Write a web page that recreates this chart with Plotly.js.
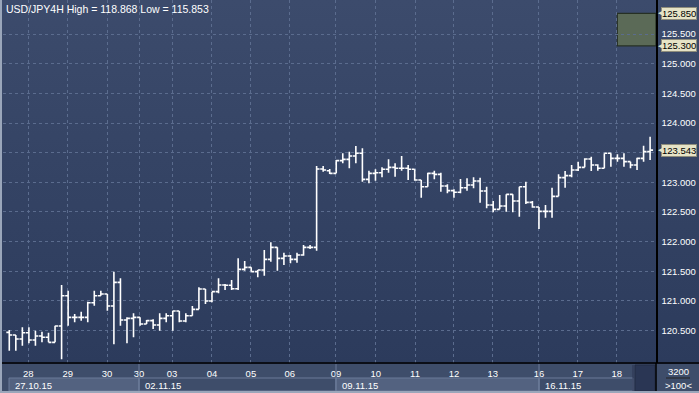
<!DOCTYPE html>
<html>
<head>
<meta charset="utf-8">
<script src="https://cdn.plot.ly/plotly-3.0.1.min.js"></script>
<style>
html,body{margin:0;padding:0;background:#2c3b5b;}
#wrap{position:relative;width:699px;height:393px;overflow:hidden;}
#bg{position:absolute;left:0;top:0;width:699px;height:364px;background:linear-gradient(#3c4b6c,#2c3b5c);}
#band{position:absolute;left:0;top:364px;width:699px;height:29px;background:#3e4d6a;}
#chart{position:absolute;left:0;top:0;width:699px;height:393px;}
#edgeL{position:absolute;left:0;top:0;width:2px;height:393px;background:#9aa6ba;}
#edgeB{position:absolute;left:0;top:391px;width:699px;height:2px;background:#9aa6ba;}
</style>
</head>
<body>
<div id="wrap"><div id="bg"></div><div id="band"></div><div id="chart"></div><div id="edgeL"></div><div id="edgeB"></div></div>
<script>
// ---- data (4H bars, USD/JPY) ----
const barIndex = [];
for (let i = 0; i < 99; i++) barIndex.push(i);
const openP = [120.470,120.425,120.357,120.464,120.341,120.408,120.386,120.301,120.577,121.088,
 120.723,120.723,120.723,120.970,121.088,121.116,120.914,121.313,120.678,120.706,
 120.723,120.610,120.667,120.594,120.706,120.751,120.830,120.661,120.751,120.858,
 121.201,120.998,121.156,121.268,121.263,121.206,121.532,121.566,121.493,121.521,
 121.701,121.903,121.718,121.757,121.701,121.774,121.903,121.903,123.224,123.196,
 123.151,123.365,123.387,123.444,123.489,123.050,123.151,123.162,123.219,123.252,
 123.236,123.236,123.219,123.039,122.926,123.151,123.134,122.938,122.859,122.831,
 122.909,122.954,123.022,122.853,122.617,122.544,122.600,122.797,122.685,122.926,
 122.662,122.583,122.510,122.510,122.763,123.078,123.112,123.207,123.252,123.393,
 123.292,123.236,123.489,123.404,123.404,123.348,123.292,123.404,123.517];
const highP = [120.509,120.425,120.554,120.554,120.498,120.481,120.464,120.582,121.268,121.173,
 120.779,120.818,120.987,121.173,121.173,121.116,121.493,121.381,120.723,120.790,
 120.723,120.678,120.689,120.790,120.790,120.835,120.830,120.790,120.914,121.229,
 121.201,121.156,121.381,121.285,121.352,121.718,121.673,121.566,121.521,121.858,
 121.988,121.903,121.813,121.774,121.813,121.943,121.943,123.275,123.275,123.224,
 123.376,123.489,123.517,123.612,123.573,123.196,123.219,123.252,123.387,123.320,
 123.444,123.292,123.219,123.039,123.162,123.196,123.162,122.966,122.881,123.056,
 123.067,123.084,123.078,122.926,122.685,122.786,122.797,122.797,122.926,123.011,
 122.685,122.583,122.617,122.909,123.134,123.191,123.292,123.348,123.404,123.432,
 123.303,123.489,123.489,123.472,123.489,123.348,123.415,123.618,123.769];
const lowP = [120.161,120.161,120.245,120.284,120.245,120.301,120.301,120.301,120.015,120.582,
 120.639,120.667,120.639,120.920,121.088,120.835,120.268,120.582,120.284,120.386,
 120.582,120.610,120.526,120.498,120.639,120.498,120.639,120.639,120.751,120.858,
 120.948,120.976,121.128,121.184,121.184,121.184,121.510,121.493,121.397,121.425,
 121.662,121.510,121.605,121.634,121.645,121.763,121.875,121.847,123.179,123.140,
 123.151,123.320,123.236,123.320,123.011,122.983,123.028,123.084,123.162,123.095,
 123.196,123.039,123.028,122.741,122.926,123.050,122.842,122.814,122.741,122.814,
 122.859,122.898,122.657,122.561,122.494,122.544,122.505,122.494,122.420,122.634,
 122.572,122.212,122.404,122.404,122.763,122.909,123.084,123.191,123.252,123.191,
 123.196,123.236,123.264,123.348,123.264,123.236,123.207,123.348,123.376];
const closeP = [120.425,120.357,120.464,120.341,120.408,120.386,120.301,120.577,121.088,120.723,
 120.723,120.723,120.970,121.088,121.116,120.914,121.313,120.678,120.706,120.723,
 120.610,120.667,120.594,120.706,120.751,120.830,120.661,120.751,120.858,121.201,
 120.998,121.156,121.268,121.263,121.206,121.532,121.566,121.493,121.521,121.701,
 121.903,121.718,121.757,121.701,121.774,121.903,121.903,123.224,123.207,123.151,
 123.365,123.387,123.444,123.489,123.050,123.151,123.162,123.219,123.252,123.236,
 123.236,123.219,123.039,122.926,123.151,123.134,122.938,122.859,122.831,122.909,
 122.954,123.022,122.853,122.617,122.544,122.600,122.797,122.685,122.926,122.662,
 122.583,122.510,122.510,122.763,123.078,123.112,123.207,123.252,123.393,123.292,
 123.236,123.489,123.404,123.404,123.348,123.292,123.404,123.517,123.543];
const dayLabels = ["28","29","30","30","03","04","05","06","09","10","11","12","13","16","17","18"];
const weekLabels = ["27.10.15","02.11.15","09.11.15","16.11.15"];
const priceTicks = [120.5,121.0,121.5,122.0,122.5,123.0,123.5,124.0,124.5,125.0,125.5];
const tagValues = [125.850,125.300,123.543];
const zoneLow = 125.300, zoneHigh = 125.850;
const titleText = "USD/JPY4H High = 118.868 Low = 115.853";
const footerTop = "3200", footerBottom = ">100<";

// ---- layout helpers ----
const L = 3, R = 656, T = 0, B = 363;
const px = x => (x - L) / (R - L);
const py = y => (B - y) / (B - T);
const dayPos = [2.9, 8.95, 14.95, 19.85, 24.9, 31.0, 36.95, 42.9, 49.95, 56.05, 62.05, 68.0, 73.95, 81.0, 86.95, 92.9];
const weekPos = [0, 19.85, 49.95, 81.0];
const FONT = '"Liberation Sans",Arial,sans-serif';

const trace = {
  type: 'ohlc', x: barIndex, open: openP, high: highP, low: lowP, close: closeP,
  increasing: {line: {color: '#ffffff', width: 1.6}},
  decreasing: {line: {color: '#ffffff', width: 1.6}},
  tickwidth: 0.45, hoverinfo: 'skip', showlegend: false
};

const shapes = [];
const annotations = [];
// resistance zone
shapes.push({type:'rect', xref:'paper', yref:'y', x0: px(617.3), x1: 1, y0: zoneLow, y1: zoneHigh,
  fillcolor:'#5b6a57', line:{color:'#263024', width:1.2}, layer:'below'});
// bottom axis line across entire width
shapes.push({type:'line', xref:'paper', yref:'paper', x0: px(0), x1: px(699), y0: 0, y1: 0, line:{color:'#000000', width:1.5}});
// week boxes in bottom band
const wb = [[9,139,true],[139,336,false],[336,539,true],[539,633,false]];
wb.forEach(([a,b,fill]) => {
  shapes.push({type:'rect', xref:'paper', yref:'paper', x0: px(a), x1: px(b), y0: py(391), y1: py(378),
    fillcolor: fill ? '#536280' : 'rgba(0,0,0,0)', line:{color:'#6b7a98', width:1}, layer:'below'});
});
[139,336,539].forEach(x => shapes.push({type:'line', xref:'paper', yref:'paper', x0:px(x), x1:px(x), y0:py(391), y1:py(364), line:{color:'#6b7a98', width:1}}));
// dark box right of bottom band
shapes.push({type:'rect', xref:'paper', yref:'paper', x0: px(635), x1: px(655), y0: py(391), y1: py(365),
  fillcolor:'#2a3654', line:{color:'#222c44', width:1}});
shapes.push({type:'line', xref:'paper', yref:'paper', x0:px(633), x1:px(633), y0:py(391), y1:py(365), line:{color:'#2a3450', width:1}});
shapes.push({type:'line', xref:'paper', yref:'paper', x0:px(656), x1:px(656), y0:py(393), y1:py(363), line:{color:'#000000', width:1.5}});
// footer line
shapes.push({type:'line', xref:'paper', yref:'paper', x0:px(666), x1:px(690), y0:py(378), y1:py(378), line:{color:'#222222', width:1}});

// week labels
weekLabels.forEach((t,i) => annotations.push({xref:'x', yref:'paper', x: weekPos[i], xshift: 4, y: py(385), xanchor:'left', yanchor:'middle',
  text: t, showarrow:false, font:{color:'#ffffff', size:9.5, family:FONT}}));
// price tags
tagValues.forEach(v => {
  annotations.push({xref:'paper', yref:'y', x: 1, xshift: 5, y: v, xanchor:'left', yanchor:'middle', text: v.toFixed(3),
    showarrow:false, bgcolor:'#e6e3c6', bordercolor:'#8f8d7c', borderwidth:1, borderpad:0,
    font:{color:'#000000', size:9.5, family:FONT}});
  annotations.push({xref:'paper', yref:'y', x: 1, xshift: 0, y: v, xanchor:'left', yanchor:'middle', text:'◀',
    showarrow:false, font:{color:'#e6e3c6', size:7, family:'DejaVu Sans'}});
});
// title
annotations.push({xref:'paper', yref:'paper', x: px(4), y: py(9), xanchor:'left', yanchor:'middle', text: titleText,
  showarrow:false, font:{color:'#ffffff', size:10.5, family:FONT}});
// footer
annotations.push({xref:'paper', yref:'paper', x: px(678), y: py(372), xanchor:'center', yanchor:'middle', text: footerTop,
  showarrow:false, font:{color:'#ffffff', size:9.5, family:FONT}});
annotations.push({xref:'paper', yref:'paper', x: px(678), y: py(385.5), xanchor:'center', yanchor:'middle', text: footerBottom.replace(/</g,'&lt;').replace(/>/g,'&gt;'),
  showarrow:false, font:{color:'#ffffff', size:9.5, family:FONT}});

const layout = {
  width: 699, height: 393,
  margin: {l: L, r: 699 - R, t: T, b: 393 - B, pad: 0},
  paper_bgcolor: 'rgba(0,0,0,0)', plot_bgcolor: 'rgba(0,0,0,0)',
  showlegend: false,
  xaxis: {
    type: 'linear', range: [-0.96, 98.9], tickmode: 'array', tickvals: dayPos, ticktext: dayLabels,
    showgrid: true, gridcolor: '#5b6c8e', griddash: 'dot', gridwidth: 1,
    zeroline: false, showline: false, ticks: '', rangeslider: {visible: false}, ticklabelstandoff: 3,
    tickfont: {color: '#ffffff', size: 9.5, family: FONT}, fixedrange: true
  },
  yaxis: {
    side: 'right', range: [119.953, 126.074], tickmode: 'array', tickvals: priceTicks,
    ticktext: priceTicks.map(v => v === 123.5 ? '' : v.toFixed(3)),
    showgrid: true, gridcolor: '#5b6c8e', griddash: 'dot', gridwidth: 1,
    zeroline: false, showline: true, linecolor: '#000000', linewidth: 1.5, ticks: '', ticklabelstandoff: 2,
    tickfont: {color: '#ffffff', size: 9.5, family: FONT}, fixedrange: true
  },
  shapes: shapes, annotations: annotations
};
Plotly.newPlot('chart', [trace], layout, {staticPlot: true, displayModeBar: false});
</script>
</body>
</html>
